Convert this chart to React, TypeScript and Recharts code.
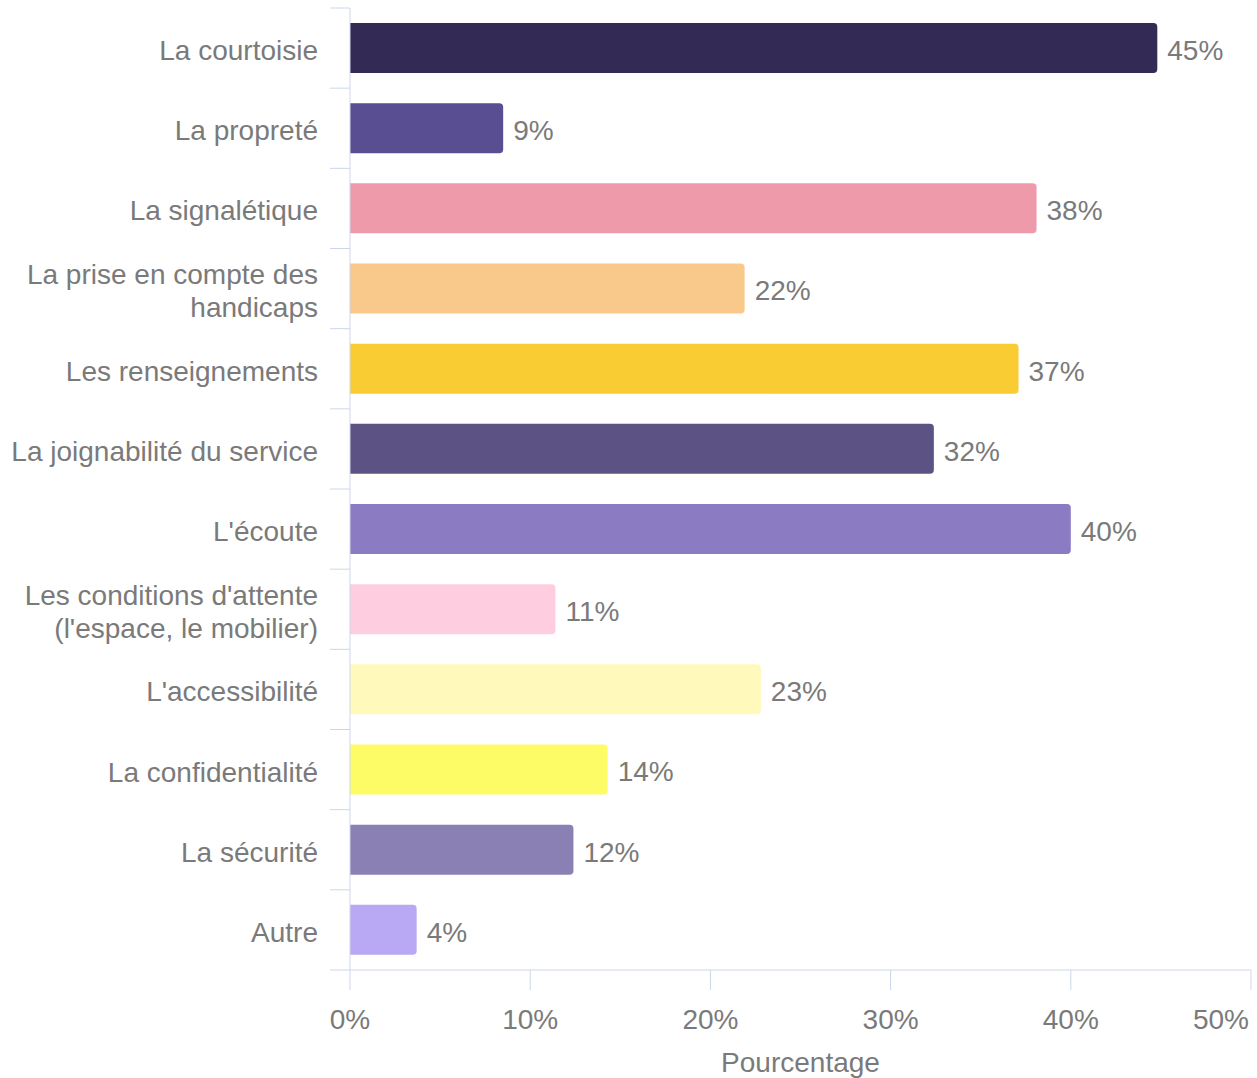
import { BarChart, Bar, XAxis, YAxis, Cell, LabelList } from "recharts";

const categories = [
  "La courtoisie",
  "La propreté",
  "La signalétique",
  "La prise en compte des\nhandicaps",
  "Les renseignements",
  "La joignabilité du service",
  "L'écoute",
  "Les conditions d'attente\n(l'espace, le mobilier)",
  "L'accessibilité",
  "La confidentialité",
  "La sécurité",
  "Autre",
];

const values = [44.8, 8.5, 38.1, 21.9, 37.1, 32.4, 40.0, 11.4, 22.8, 14.3, 12.4, 3.7];

const colors = [
  "#332b56",
  "#5a4e93",
  "#ef9aab",
  "#f9c98c",
  "#f9cc33",
  "#5c5283",
  "#8b7bc2",
  "#ffcde0",
  "#fffabc",
  "#fefc66",
  "#8a80b3",
  "#b9a9f4",
];

const xTicks = [0, 10, 20, 30, 40, 50];

const data = categories.map((name, i) => ({ name, value: values[i] }));

const WIDTH = 1257;
const HEIGHT = 1078;
const TOP = 8;
const XAXIS_H = 108;
const PLOT_H = HEIGHT - TOP - XAXIS_H;
const BAND = PLOT_H / categories.length;
const AXIS = "#ccd6eb";
const TEXT = "#7a7a7a";
const FONT = "'Liberation Sans', Arial, sans-serif";

function CategoryTick(props: any) {
  const { x, y, payload, index } = props;
  const lines = String(payload.value).split("\n");
  const lh = 33;
  const start = -((lines.length - 1) * lh) / 2;
  const isLast = index === categories.length - 1;
  return (
    <g>
      <line x1={x + 12} x2={x + 32} y1={y - BAND / 2} y2={y - BAND / 2} stroke={AXIS} strokeWidth={1} />
      {isLast && (
        <line x1={x + 12} x2={x + 32} y1={y + BAND / 2} y2={y + BAND / 2} stroke={AXIS} strokeWidth={1} />
      )}
      <text x={x} y={y + 2} textAnchor="end" fill={TEXT} fontSize={28} fontFamily={FONT}>
        {lines.map((l, i) => (
          <tspan key={i} x={x} y={y + 2 + start + i * lh} dy="0.355em">
            {l}
          </tspan>
        ))}
      </text>
    </g>
  );
}

function ValueTick(props: any) {
  const { x, y, payload, index } = props;
  const last = index === xTicks.length - 1;
  return (
    <text
      x={last ? x - 2 : x}
      y={y}
      dy="0.71em"
      textAnchor={last ? "end" : "middle"}
      fill={TEXT}
      fontSize={28}
      fontFamily={FONT}
    >
      {`${payload.value}%`}
    </text>
  );
}

function BarValue(props: any) {
  const { x, y, width, height, value } = props;
  return (
    <text
      x={x + width + 10}
      y={y + height / 2 + 2}
      dy="0.355em"
      textAnchor="start"
      fill={TEXT}
      fontSize={28}
      fontFamily={FONT}
    >
      {`${Math.round(Number(value))}%`}
    </text>
  );
}

export default function App() {
  return (
    <div style={{ position: "absolute", left: 0, top: 0, fontFamily: FONT }}>
      <BarChart
        width={WIDTH}
        height={HEIGHT}
        data={data}
        layout="vertical"
        margin={{ top: TOP, right: 6, bottom: 0, left: 0 }}
      >
        <XAxis
          type="number"
          domain={[0, 50]}
          ticks={xTicks}
          interval={0}
          height={XAXIS_H}
          tickSize={20}
          tickMargin={19}
          axisLine={{ stroke: AXIS }}
          tickLine={{ stroke: AXIS }}
          tick={<ValueTick />}
          label={{
            value: "Pourcentage",
            position: "insideBottom",
            offset: 6,
            fill: TEXT,
            fontSize: 28,
            fontFamily: FONT,
          }}
        />
        <YAxis
          type="category"
          dataKey="name"
          width={350}
          interval={0}
          tickSize={20}
          tickMargin={12}
          tickLine={false}
          axisLine={{ stroke: AXIS }}
          tick={<CategoryTick />}
        />
        <Bar dataKey="value" barSize={50} radius={[0, 4, 4, 0]} isAnimationActive={false}>
          {data.map((d, i) => (
            <Cell key={d.name} fill={colors[i]} />
          ))}
          <LabelList dataKey="value" content={<BarValue />} />
        </Bar>
      </BarChart>
    </div>
  );
}
